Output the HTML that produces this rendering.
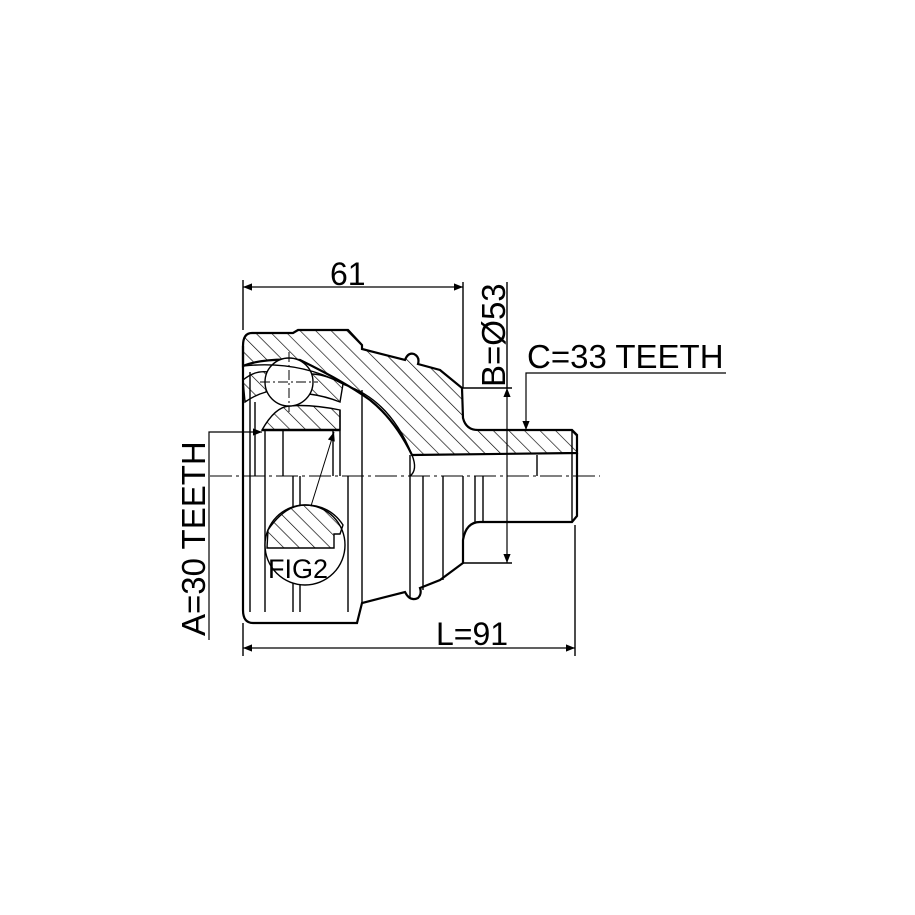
<!DOCTYPE html>
<html><head><meta charset="utf-8"><style>
html,body{margin:0;padding:0;background:#fff}
svg{display:block}
text{font-family:"Liberation Sans",sans-serif;fill:#000}
</style></head><body>
<svg width="915" height="915" viewBox="0 0 915 915" xmlns="http://www.w3.org/2000/svg">
<defs>
<pattern id="h" patternUnits="userSpaceOnUse" width="11" height="11" patternTransform="rotate(-45)">
<line x1="0" y1="0" x2="0" y2="11" stroke="#000" stroke-width="1.3"/>
</pattern>
<marker id="a" viewBox="0 0 10 10" refX="10" refY="5" markerWidth="18" markerHeight="9" markerUnits="userSpaceOnUse" orient="auto-start-reverse"><path d="M0,1 L10,5 L0,9 z" fill="#000"/></marker>
</defs>
<g stroke="#000" fill="none" stroke-width="1.4">
<path d="M243,346 Q243,333 252,333 L293,333 L298,330 L348,330 L362,345 L362,349 L405,360 Q408,352 414,354 Q420,357 418,364 L440,370 L462,388 L463,418 Q466,430 478,430 L572,430 L577,435 L577,453 L412,455 Q395,420 370,400 Q345,382 300,360 Q262,358 243,366 Z" fill="url(#h)" stroke-width="2.2"/>
<path d="M262,430 Q275,407 289,406 Q310,404 340,410 L340,430 Z" fill="url(#h)"/>
<path d="M243,380 Q255,370 268,372 L266,392 Q255,395 245,402 Z" fill="url(#h)"/>
<path d="M311,374 Q325,374 343,384 L340,402 Q325,396 309,394 Z" fill="url(#h)"/>
<circle cx="289" cy="382" r="24" fill="#fff"/>
<path d="M289,352 V412 M260,382 H318" stroke-width="1" stroke-dasharray="10,3,2,3"/>
<path d="M243,366 Q300,360 345,385 Q390,400 412,455" />
<path d="M243,346 L243,610 Q243,623 253,623 L357,623 L362,603 L405,592 Q410,602 418,598 Q422,594 420,588 L440,580 L463,563 L463,540 Q466,522 480,522 L572,522 L577,516 L577,453" stroke-width="2.2"/>
<path d="M250,372 V612 M265,430 V612 M255,402 V476 M283,430 V476 M293,476 V612 M300,476 V612 M333,430 V476 M340,410 V476 M348,476 V612 M362,390 V603 M410,455 V598 M423,476 V590 M443,476 V580 M463,476 V563 M475,476 V522 M483,476 V522 M537,455 V476 M572,430 V522"/>
<path d="M412,455 Q418,470 410,476" />
<path d="M262,430 H340" stroke-width="2.4"/>
<path d="M210,476 H600" stroke-width="1" stroke-dasharray="22,4,3,4"/>
<circle cx="305" cy="545" r="40" fill="#fff"/>
<path d="M268,530 Q285,505 305,505 Q330,505 343,525 L340,534 H334 L334,548 L267,548 Z" fill="url(#h)"/>
<path d="M311,506 L334,432" stroke-width="1" marker-end="url(#a)"/>
<path d="M243,280 V330 M463,282 V388"/>
<path d="M243,287 H463" stroke-width="1.2" marker-start="url(#a)" marker-end="url(#a)"/>
<path d="M243,623 V656 M575,525 V656"/>
<path d="M243,648 H575" stroke-width="1.2" marker-start="url(#a)" marker-end="url(#a)"/>
<path d="M463,388 H512 M463,563 H512 M507,282 V388"/>
<path d="M507,388 V563" stroke-width="1.2" marker-start="url(#a)" marker-end="url(#a)"/>
<path d="M726,373 H526 V430" stroke-width="1.2" marker-end="url(#a)"/>
<path d="M209,640 V432 H262" stroke-width="1.2" marker-end="url(#a)"/>
</g>
<text x="330" y="285" font-size="32">61</text>
<text x="436" y="645" font-size="32">L=91</text>
<text x="527" y="368" font-size="33">C=33 TEETH</text>
<text x="268" y="578" font-size="27">FIG2</text>
<text transform="translate(505,387) rotate(-90)" font-size="33">B=Ø53</text>
<text transform="translate(205,636) rotate(-90)" font-size="33">A=30 TEETH</text>
</svg>
</body></html>
